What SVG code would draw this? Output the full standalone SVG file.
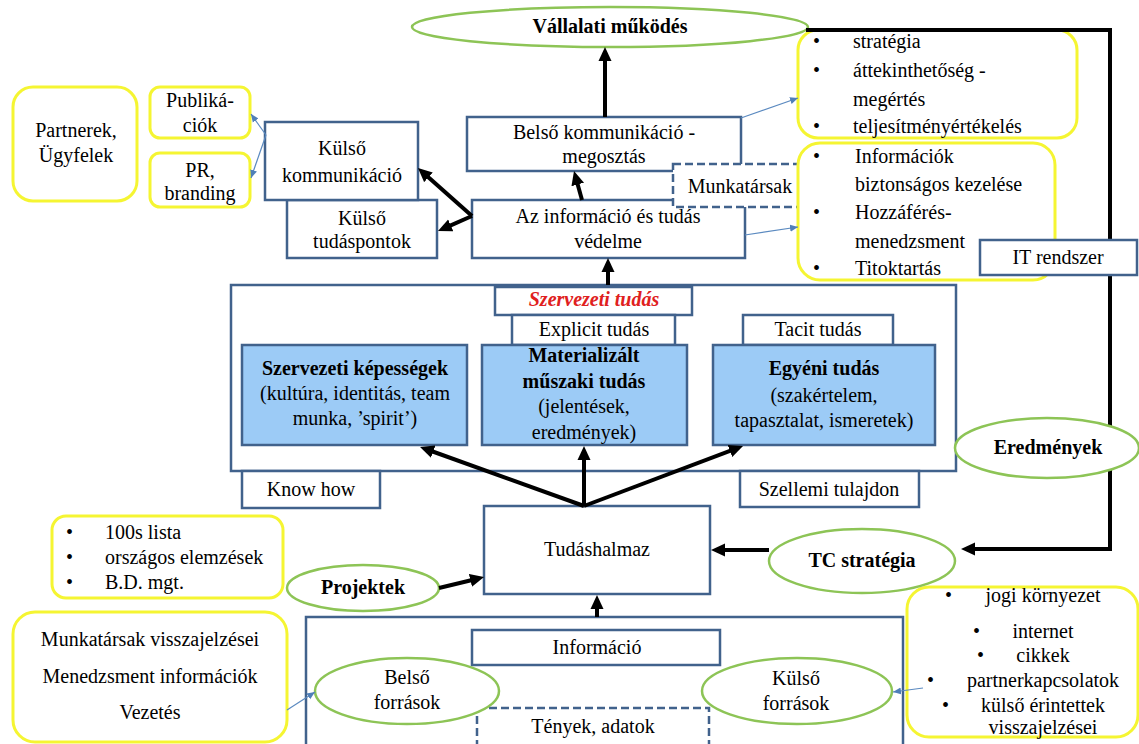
<svg xmlns="http://www.w3.org/2000/svg" width="1139" height="744" viewBox="0 0 1139 744">
<defs>
<style>
text{font-family:"Liberation Serif","Times New Roman",serif;font-size:20px;fill:#000}
.c{text-anchor:middle}
.b{font-weight:bold}
.box{fill:#fff;stroke:#41628c;stroke-width:2.5}
.dash{fill:#fff;stroke:#41628c;stroke-width:2.5;stroke-dasharray:8 4}
.blue{fill:#9ccbf6;stroke:#41628c;stroke-width:2.5}
.yel{fill:#fff;stroke:#f5f532;stroke-width:3}
.ell{fill:#fff;stroke:#8dc456;stroke-width:2.5}
.arr{fill:none;stroke:#000;stroke-width:4;marker-end:url(#ah)}
.thin{fill:none;stroke:#5b8ac0;stroke-width:1.2;marker-end:url(#ta)}
</style>
<marker id="ah" markerUnits="userSpaceOnUse" markerWidth="14" markerHeight="14" viewBox="0 0 14 14" refX="5" refY="7" orient="auto">
<path d="M0,0.5 L14,7 L0,13.5 z" fill="#000"/>
</marker>
<marker id="ta" markerUnits="userSpaceOnUse" markerWidth="8" markerHeight="8" viewBox="0 0 8 8" refX="8" refY="4" orient="auto">
<path d="M0,0.5 L8,4 L0,7.5 z" fill="#4f7fb8"/>
</marker>
</defs>

<g id="szervezeti-tudas-container"><rect class="box" x="231" y="285" width="725" height="186"/></g>
<g id="forrasok-container"><rect class="box" x="306" y="617" width="597" height="140"/></g>

<g id="vallalati-mukodes"><ellipse class="ell" cx="610" cy="27" rx="198" ry="20"/><text class="c b" x="610" y="33">Vállalati  működés</text></g>

<g id="partnerek"><rect class="yel" x="13" y="87" width="124" height="114" rx="20"/><text class="c" x="76" y="137">Partnerek,</text><text class="c" x="76" y="162">Ügyfelek</text></g>
<g id="publikaciok"><rect class="yel" x="150" y="87" width="100" height="51" rx="10"/><text class="c" x="200" y="107">Publiká-</text><text class="c" x="200" y="132">ciók</text></g>
<g id="pr-branding"><rect class="yel" x="150" y="153" width="100" height="54" rx="10"/><text class="c" x="200" y="177">PR,</text><text class="c" x="200" y="200">branding</text></g>

<g id="kulso-tudaspontok"><rect class="box" x="287" y="200" width="150" height="58"/><text class="c" x="362" y="225">Külső</text><text class="c" x="362" y="248">tudáspontok</text></g>
<g id="kulso-kommunikacio"><rect class="box" x="265" y="122" width="153" height="78"/><text class="c" x="342" y="155">Külső</text><text class="c" x="342" y="182">kommunikáció</text></g>

<g id="belso-kommunikacio"><rect class="box" x="467" y="117" width="274" height="54"/><text class="c" x="604" y="139">Belső kommunikáció -</text><text class="c" x="604" y="163">megosztás</text></g>
<g id="informacio-vedelme"><rect class="box" x="472" y="200" width="273" height="58"/><text class="c" x="608" y="223">Az információ és tudás</text><text class="c" x="608" y="248">védelme</text></g>
<g id="munkatarsak"><rect class="dash" x="673" y="164" width="134" height="43"/><text class="c" x="740" y="193">Munkatársak</text></g>

<g id="lista-strategia"><rect class="yel" x="798" y="30" width="279" height="108" rx="20"/>
<text x="813" y="48">•</text><text x="853" y="48">stratégia</text>
<text x="813" y="77">•</text><text x="853" y="77">áttekinthetőség  -</text>
<text x="853" y="106">megértés</text>
<text x="813" y="133">•</text><text x="853" y="133">teljesítményértékelés</text></g>

<g id="lista-vedelem"><rect class="yel" x="798" y="143" width="257" height="137" rx="22"/>
<text x="813" y="163">•</text><text x="855" y="163">Információk</text>
<text x="855" y="191">biztonságos  kezelése</text>
<text x="813" y="219">•</text><text x="855" y="219">Hozzáférés-</text>
<text x="855" y="248">menedzsment</text>
<text x="813" y="275">•</text><text x="855" y="275">Titoktartás</text></g>

<g id="szervezeti-tudas-label"><rect class="box" x="495" y="287" width="197" height="28"/><text class="c b" x="594" y="306" style="font-style:italic;fill:#e02020">Szervezeti  tudás</text></g>
<g id="explicit-tudas"><rect class="box" x="512" y="315" width="163" height="30"/><text class="c" x="594" y="336">Explicit  tudás</text></g>
<g id="tacit-tudas"><rect class="box" x="743" y="315" width="150" height="30"/><text class="c" x="818" y="336">Tacit  tudás</text></g>

<g id="szervezeti-kepessegek"><rect class="blue" x="242" y="345" width="225" height="100"/><text class="c b" x="355" y="375">Szervezeti  képességek</text><text class="c" x="355" y="400">(kultúra, identitás,  team</text><text class="c" x="355" y="425">munka, ’spirit’)</text></g>
<g id="materializalt"><rect class="blue" x="482" y="345" width="205" height="100"/><text class="c b" x="584" y="362">Materializált</text><text class="c b" x="584" y="388">műszaki  tudás</text><text class="c" x="584" y="413">(jelentések,</text><text class="c" x="584" y="439">eredmények)</text></g>
<g id="egyeni-tudas"><rect class="blue" x="713" y="345" width="222" height="100"/><text class="c b" x="824" y="375">Egyéni  tudás</text><text class="c" x="824" y="402">(szakértelem,</text><text class="c" x="824" y="427">tapasztalat,  ismeretek)</text></g>

<g id="know-how"><rect class="box" x="242" y="471" width="138" height="37"/><text class="c" x="311" y="496">Know how</text></g>
<g id="szellemi-tulajdon"><rect class="box" x="740" y="471" width="179" height="36"/><text class="c" x="829" y="496">Szellemi  tulajdon</text></g>

<g id="tudashalmaz"><rect class="box" x="484" y="506" width="226" height="88"/><text class="c" x="597" y="556">Tudáshalmaz</text></g>

<g id="lista-100s"><rect class="yel" x="52" y="516" width="231" height="82" rx="14"/>
<text x="66" y="539">•</text><text x="105" y="539">100s  lista</text>
<text x="66" y="564">•</text><text x="105" y="564">országos  elemzések</text>
<text x="66" y="589">•</text><text x="105" y="589">B.D.  mgt.</text></g>
<g id="projektek"><ellipse class="ell" cx="363" cy="588" rx="76" ry="23"/><text class="c b" x="363" y="594">Projektek</text></g>

<g id="belso-lista"><rect class="yel" x="13" y="612" width="274" height="130" rx="22"/>
<text class="c" x="150" y="646">Munkatársak  visszajelzései</text>
<text class="c" x="150" y="683">Menedzsment  információk</text>
<text class="c" x="150" y="719">Vezetés</text></g>

<g id="informacio"><rect class="box" x="472" y="630" width="248" height="35"/><text class="c" x="597" y="654">Információ</text></g>
<g id="tenyek-adatok"><rect class="dash" x="477" y="708" width="232" height="52"/><text class="c" x="593" y="733">Tények, adatok</text></g>
<g id="belso-forrasok"><ellipse class="ell" cx="407" cy="691" rx="92" ry="33"/><text class="c" x="407" y="684">Belső</text><text class="c" x="407" y="709">források</text></g>
<g id="kulso-forrasok"><ellipse class="ell" cx="797" cy="691" rx="95" ry="33"/><text class="c" x="796" y="685">Külső</text><text class="c" x="796" y="710">források</text></g>

<g id="kulso-lista"><rect class="yel" x="907" y="587" width="231" height="150" rx="22"/>
<text x="945" y="602">•</text><text class="c" x="1043" y="602">jogi környezet</text>
<text x="973" y="638">•</text><text class="c" x="1043" y="638">internet</text>
<text x="977" y="662">•</text><text class="c" x="1043" y="662">cikkek</text>
<text x="927" y="687">•</text><text class="c" x="1043" y="687">partnerkapcsolatok</text>
<text x="942" y="712">•</text><text class="c" x="1043" y="712">külső érintettek</text>
<text class="c" x="1043" y="734">visszajelzései</text></g>

<g id="tc-strategia"><ellipse class="ell" cx="862" cy="561" rx="93" ry="32"/><text class="c b" x="862" y="567">TC stratégia</text></g>

<g id="connectors">
<line class="arr" x1="605" y1="117" x2="605" y2="56"/>
<line class="arr" x1="582" y1="200" x2="576.4" y2="179.7"/>
<line class="arr" x1="472" y1="216" x2="424.7" y2="174"/>
<line class="arr" x1="472" y1="216" x2="446.2" y2="227.4"/>
<line class="arr" x1="608" y1="285" x2="608" y2="267"/>
<line class="arr" x1="584" y1="506" x2="428.5" y2="450"/>
<line class="arr" x1="584" y1="506" x2="584" y2="455"/>
<line class="arr" x1="584" y1="506" x2="734.6" y2="449.2"/>
<line class="arr" x1="439" y1="588" x2="475.3" y2="579.2"/>
<line class="arr" x1="769" y1="550" x2="720" y2="550"/>
<line class="arr" x1="597" y1="617" x2="597" y2="604"/>
<path class="arr" d="M806,30 H1110 V549 H970"/>
<line class="thin" x1="266" y1="135" x2="251" y2="114"/>
<line class="thin" x1="266" y1="135" x2="251" y2="178"/>
<line class="thin" x1="741" y1="118" x2="798" y2="98"/>
<line class="thin" x1="745" y1="235" x2="798" y2="227"/>
<line class="thin" x1="287" y1="710" x2="315" y2="692"/>
<line class="thin" x1="923" y1="688" x2="893" y2="692"/>
</g>

<g id="eredmenyek"><ellipse class="ell" cx="1047" cy="448" rx="92" ry="30"/><text class="c b" x="1048" y="454">Eredmények</text></g>
<g id="it-rendszer"><rect class="box" x="980" y="240" width="157" height="35"/><text class="c" x="1058" y="264">IT rendszer</text></g>
</svg>
